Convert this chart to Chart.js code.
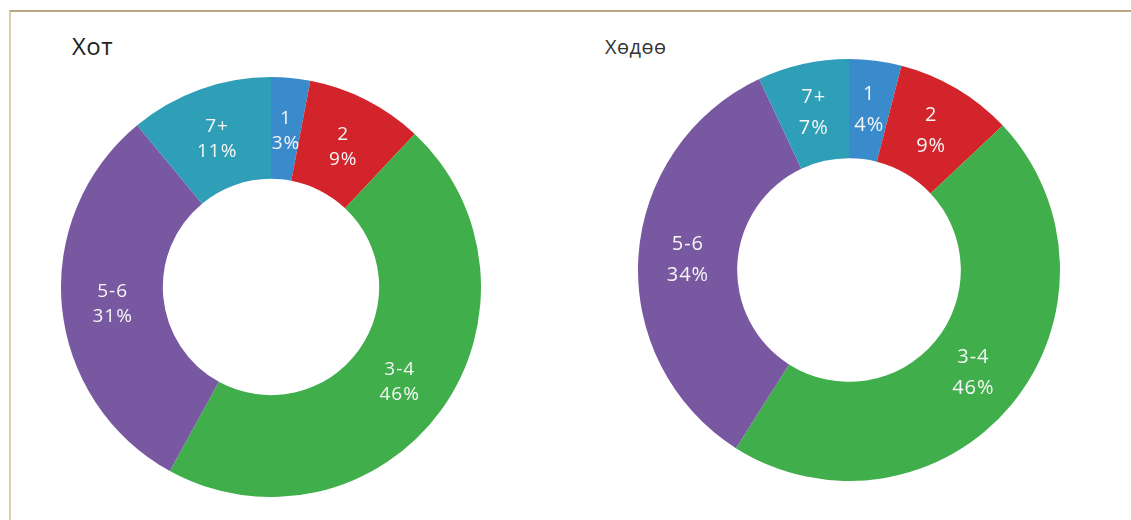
<!DOCTYPE html>
<html>
<head>
<meta charset="utf-8">
<script src="https://cdn.jsdelivr.net/npm/chart.js@4"></script>
<style>
  body { margin: 0; background: #fff; width: 1131px; height: 520px; overflow: hidden; position: relative; }
  .frame { position: absolute; left: 9px; top: 10px; right: 0; bottom: 0; border-top: 2px solid #b9a87f; border-left: 2px solid #dccdad; }
  .title { position: absolute; color: #222; white-space: nowrap; }
  #t1 { left: 72px; top: 29px; font: 24px "Open Sans", sans-serif; letter-spacing: 0.5px; }
  #t2 { left: 605px; top: 33px; font: 20px "Open Sans", sans-serif; letter-spacing: 0.5px; color: #333; }
  .box { position: absolute; }
  #box1 { left: 61px; top: 77px; width: 420px; height: 420px; }
  #box2 { left: 638px; top: 59px; width: 422px; height: 422px; }
</style>
</head>
<body>
<div class="frame"></div>
<div class="title" id="t1">Хот</div>
<div class="title" id="t2">Хөдөө</div>
<div class="box" id="box1"><canvas id="chartHot"></canvas></div>
<div class="box" id="box2"><canvas id="chartHodoo"></canvas></div>
<script>
const categories = ["1", "2", "3-4", "5-6", "7+"];
const hotValues = [3, 9, 46, 31, 11];
const hodooValues = [4, 9, 46, 34, 7];
const sliceColors = ["#3a8bcb", "#d3242b", "#40ae4b", "#7858a1", "#2f9fb8"];

// label plugin: category + percent in the middle of each slice
const sliceLabels = {
  id: "sliceLabels",
  afterDatasetsDraw(chart, args, opts) {
    const ctx = chart.ctx;
    const meta = chart.getDatasetMeta(0);
    const data = chart.data.datasets[0].data;
    ctx.save();
    ctx.fillStyle = "#f6f6f6";
    ctx.font = opts.font;
    ctx.letterSpacing = opts.spacing;
    ctx.textAlign = "center";
    ctx.textBaseline = "middle";
    meta.data.forEach(function (arc, i) {
      const p = arc.getCenterPoint();
      ctx.fillText(chart.data.labels[i], p.x, p.y - opts.gap / 2 + opts.dy);
      ctx.fillText(data[i] + "%", p.x, p.y + opts.gap / 2 + opts.dy);
    });
    ctx.restore();
  },
};

function makeDoughnut(id, values, cutout, labelOpts) {
  return new Chart(document.getElementById(id), {
    type: "doughnut",
    data: {
      labels: categories,
      datasets: [
        {
          data: values,
          backgroundColor: sliceColors,
          borderWidth: 0,
        },
      ],
    },
    options: {
      responsive: true,
      maintainAspectRatio: false,
      animation: false,
      cutout: cutout,
      layout: { padding: 0 },
      plugins: {
        legend: { display: false },
        tooltip: { enabled: false },
        sliceLabels: labelOpts,
      },
    },
    plugins: [sliceLabels],
  });
}

makeDoughnut("chartHot", hotValues, "51.5%", {
  font: "19px 'Open Sans', sans-serif", spacing: "1px", gap: 25, dy: 2,
});
makeDoughnut("chartHodoo", hodooValues, "53%", {
  font: "20px 'Open Sans', sans-serif", spacing: "1px", gap: 31, dy: 0,
});
</script>
</body>
</html>
